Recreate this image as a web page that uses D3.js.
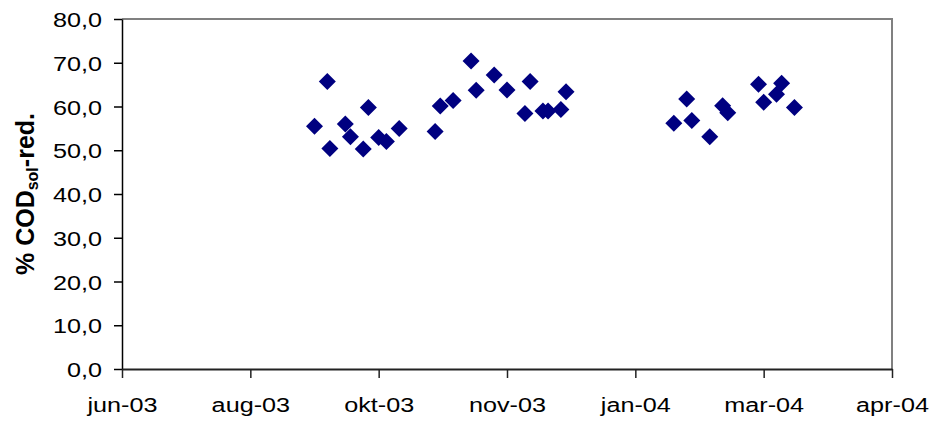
<!DOCTYPE html>
<html><head><meta charset="utf-8">
<script src="https://cdn.jsdelivr.net/npm/d3@7"></script>
<style>body{margin:0;background:#fff}svg{display:block}</style>
</head><body><svg id="c" width="931" height="421"></svg>
<script>
// Sample dates and % CODsol reduction
const sampleDates = [
  "2003-09-09","2003-09-14","2003-09-15","2003-09-21","2003-09-23","2003-09-28","2003-09-30",
  "2003-10-04","2003-10-07","2003-10-12",
  "2003-10-26","2003-10-28","2003-11-02","2003-11-09","2003-11-11","2003-11-18","2003-11-23",
  "2003-11-30","2003-12-02","2003-12-07","2003-12-09","2003-12-14","2003-12-16",
  "2004-01-27","2004-02-01","2004-02-03","2004-02-10","2004-02-15","2004-02-17",
  "2004-02-29","2004-03-02","2004-03-07","2004-03-09","2004-03-14"
];
const codReduction = [
  55.5, 65.7, 50.4, 56.0, 53.1, 50.3, 59.8,
  52.9, 52.0, 55.0,
  54.3, 60.1, 61.4, 70.4, 63.7, 67.2, 63.8,
  58.4, 65.7, 59.0, 59.0, 59.3, 63.4,
  56.2, 61.7, 56.8, 53.1, 60.2, 58.6,
  65.1, 61.0, 62.8, 65.3, 59.8
];
const xTickDates = ["2003-06-26","2003-08-15","2003-10-04","2003-11-23","2004-01-12","2004-03-02","2004-04-21"];
const xTickLabels = ["jun-03","aug-03","okt-03","nov-03","jan-04","mar-04","apr-04"];
const yTickValues = [0,10,20,30,40,50,60,70,80];
const yDomain = [0, 80];

const parse = d3.utcParse("%Y-%m-%d");
const svg = d3.select("#c");
const L = 122, R = 892, T = 19, B = 369;
const FS = 21, SX = 1.2;
const FONT = "'Liberation Sans', Arial, sans-serif";

const tickD = xTickDates.map(parse);
const x = d3.scaleUtc().domain([tickD[0], tickD[tickD.length-1]]).range([L, R]);
const y = d3.scaleLinear().domain(yDomain).range([B, T]);

// plot frame (top/right gray)
svg.append("path")
  .attr("d", `M${L},${T}H${R}V${B}`)
  .attr("fill","none").attr("stroke","#808080").attr("stroke-width",2);

// Y axis
const yAxis = svg.append("g").attr("transform",`translate(${L},0)`)
  .call(d3.axisLeft(y).tickValues(yTickValues).tickSize(8).tickSizeOuter(0)
    .tickFormat(d => d3.format(".1f")(d).replace(".", ",")));
yAxis.select(".domain").attr("stroke","#000").attr("stroke-width",1.5);
yAxis.selectAll(".tick line").attr("stroke","#000").attr("stroke-width",1.5);
yAxis.selectAll(".tick text")
  .attr("font-family",FONT).attr("font-size",FS)
  .attr("fill","#000").attr("x", -20/SX).attr("dy","0.36em")
  .attr("transform",`scale(${SX},1)`);

// X axis
const labelByTime = new Map(tickD.map((d,i)=>[+d, xTickLabels[i]]));
const xAxis = svg.append("g").attr("transform",`translate(0,${B})`)
  .call(d3.axisBottom(x).tickValues(tickD).tickSize(9).tickSizeOuter(0)
    .tickFormat(d => labelByTime.get(+d)));
xAxis.select(".domain").attr("stroke","#222").attr("stroke-width",2);
xAxis.selectAll(".tick line").attr("stroke","#222").attr("stroke-width",1.5);
xAxis.selectAll(".tick text")
  .attr("font-family",FONT).attr("font-size",FS)
  .attr("fill","#000").attr("y", 28).attr("dy", null).attr("dominant-baseline","hanging")
  .attr("transform",`scale(${SX},1)`);

// Y title
const title = svg.append("text")
  .attr("transform","translate(34,194) rotate(-90)")
  .attr("text-anchor","middle")
  .attr("font-family",FONT)
  .attr("font-weight","bold").attr("font-size",25).attr("fill","#000");
title.append("tspan").text("% COD");
title.append("tspan").attr("font-size",16).attr("dy",4).text("sol");
title.append("tspan").attr("dy",-4).text("-red.");

// points
const data = sampleDates.map((d,i)=>({date: parse(d), v: codReduction[i]}));
const s = 8.5;
svg.append("g").selectAll("path").data(data).join("path")
  .attr("transform", d => `translate(${x(d.date)},${y(d.v)})`)
  .attr("d", `M0,${-s}L${s},0L0,${s}L${-s},0Z`)
  .attr("fill","#000080");
</script>
</body></html>
